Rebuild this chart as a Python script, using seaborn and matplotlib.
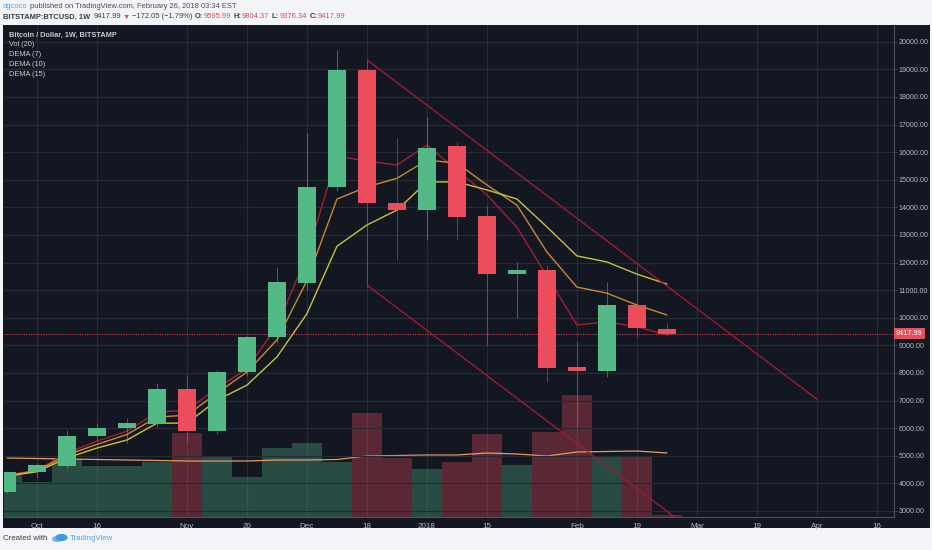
import matplotlib
matplotlib.use("Agg")
import matplotlib.pyplot as plt
from matplotlib.patches import Rectangle, Circle
import pandas as pd
import seaborn as sns

# weekly BTCUSD candles (Bitstamp)
weeks = pd.date_range("2017-09-25", "2018-02-26", freq="7D")

opens = [3690, 4410, 4630, 5710, 5990, 6140, 7410, 5890, 8040, 9300, 11260, 14740,
         18970, 14150, 13900, 16220, 13680, 11580, 11730, 8220, 8070, 10460, 9595.99]
highs = [4430, 4720, 5930, 6180, 6360, 7640, 7930, 8100, 9350, 11840, 16690, 19700,
         19340, 16510, 17270, 16350, 14050, 12020, 11900, 9120, 11290, 11830, 9804.37]
lows = [3650, 4200, 4550, 5550, 5460, 6050, 5500, 5800, 7900, 9090, 11000, 14600,
        11110, 12090, 12820, 12820, 9000, 9990, 7670, 6000, 7850, 9300, 9376.34]
closes = [4410, 4660, 5710, 6000, 6170, 7410, 5890, 8040, 9300, 11290, 14740, 18970,
          14150, 13900, 16150, 13650, 11580, 11730, 8180, 8070, 10460, 9630, 9417.99]

# volume (relative units) and its 20-period average
volume = [42, 35, 58, 51, 51, 55, 84, 61, 40, 69, 74, 55, 104, 59, 48, 55, 83, 52, 85, 122, 61, 61, 2]
vol_ma = [59, 58.5, 58, 57.5, 57, 56.5, 56, 56, 56, 57, 57, 57.5, 61, 61.5, 62, 62, 64, 63, 61, 65,
          65.5, 66, 64]

dema7 = [4300, 4480, 5100, 5530, 5890, 6580, 6650, 7450, 8150, 9700, 12250, 15850, 15680, 15530,
         16250, 15350, 14450, 13280, 11510, 9740, 9850, 9670, 9380]
dema10 = [4280, 4450, 5030, 5410, 5770, 6400, 6470, 7270, 8030, 9200, 11350, 14300, 14740, 15050,
          15710, 15600, 14810, 14080, 12380, 11110, 10890, 10460, 10100]
dema15 = [4260, 4420, 4920, 5280, 5570, 6180, 6180, 7010, 7560, 8580, 10150, 12590, 13360, 13900,
          14920, 14920, 14630, 14300, 13290, 12240, 12020, 11580, 11220]

# drawn trend channel
upper_dates = pd.to_datetime(["2017-12-18", "2018-04-02"])
upper_prices = [19340, 7050]
lower_dates = pd.to_datetime(["2017-12-18", "2018-03-05"])
lower_prices = [11180, 2170]

last_price = 9417.99

price_ticks = list(range(3000, 20001, 1000))
time_ticks = pd.to_datetime(["2017-10-02", "2017-10-16", "2017-11-06", "2017-11-20", "2017-12-04",
                             "2017-12-18", "2018-01-01", "2018-01-15", "2018-02-05", "2018-02-19",
                             "2018-03-05", "2018-03-19", "2018-04-02", "2018-04-16"])
time_labels = ["Oct", "16", "Nov", "20", "Dec", "18", "2018", "15", "Feb", "19", "Mar", "19", "Apr", "16"]

GREEN = "#53b987"
RED = "#eb4d5c"
BG = "#131722"
GRID = "#272b36"
TXT = "#b8bbc4"

sns.set_theme(style="dark")
plt.rcParams["font.family"] = ["Liberation Sans", "DejaVu Sans"]

W, H = 932, 550
fig = plt.figure(figsize=(W / 100, H / 100), dpi=100)
fig.patch.set_facecolor("#f2f4f7")


def fx(x):
    return x / W


def fy(y):
    return 1 - y / H


# dark chart frame
fig.patches.append(Rectangle((fx(3), fy(528)), fx(927), 503 / H,
                             transform=fig.transFigure, facecolor=BG, edgecolor="none", zorder=-5))

rect = [fx(4), fy(517), fx(890), 492 / H]
ax_v = fig.add_axes(rect)
ax_v.set_facecolor(BG)
ax = ax_v.twinx()

x_left = pd.Timestamp("2017-09-24 07:00")
x_right = pd.Timestamp("2018-04-20")
ax_v.set_xlim(x_left, x_right)
ax.set_ylim(2780, 20605)
ax_v.set_ylim(0, 492)

# volume
vol_colors = [GREEN if c >= o else RED for o, c in zip(opens, closes)]
ax_v.bar(weeks, volume, width=7, color=vol_colors, alpha=0.33, linewidth=0)
sns.lineplot(x=weeks, y=vol_ma, ax=ax_v, color="#e89a5d", linewidth=0.9)
ax_v.set_yticks([])
ax_v.set_ylabel("")
ax_v.set_xlabel("")
ax_v.grid(axis="x", color=GRID, linewidth=0.9)
ax_v.grid(axis="y", visible=False)
ax_v.set_xticks(time_ticks)
ax_v.set_xticklabels(time_labels)
ax_v.tick_params(axis="x", colors="#4c525e", labelcolor=TXT, labelsize=5.8, length=3, width=0.6, pad=1)
for s in ["top", "left", "right"]:
    ax_v.spines[s].set_visible(False)
ax_v.spines["bottom"].set_color("#4c525e")
ax_v.spines["bottom"].set_linewidth(0.8)

# DEMA lines
sns.lineplot(x=weeks, y=dema7, ax=ax, color="#a51f36", linewidth=1.0)
sns.lineplot(x=weeks, y=dema10, ax=ax, color="#c98a2e", linewidth=1.0)
sns.lineplot(x=weeks, y=dema15, ax=ax, color="#c8c23c", linewidth=1.0)

# candles
candle_colors = [GREEN if c >= o else RED for o, c in zip(opens, closes)]
ax.vlines(weeks, lows, highs, colors=candle_colors, linewidth=0.7, alpha=0.55, zorder=3)
bottoms = [min(o, c) for o, c in zip(opens, closes)]
heights = [max(abs(c - o), 120) for o, c in zip(opens, closes)]
ax.bar(weeks, heights, bottom=bottoms, width=4.3, color=candle_colors, linewidth=0, zorder=4)

# trend channel
ax.plot(upper_dates, upper_prices, color="#9e1b32", linewidth=1.0, zorder=5)
ax.plot(lower_dates, lower_prices, color="#9e1b32", linewidth=1.0, zorder=5)

# last price line and label
ax.axhline(last_price, color=RED, linestyle=(0, (1, 1.5)), linewidth=0.7, zorder=2)
ax.text(1.002, last_price, f"{last_price:.2f}", transform=ax.get_yaxis_transform(),
        ha="left", va="center", fontsize=5.2, color="white",
        bbox=dict(boxstyle="square,pad=0.3", facecolor=RED, edgecolor="none"), zorder=6)

ax.set_yticks(price_ticks)
ax.set_yticklabels([f"{v:.2f}" for v in price_ticks])
ax.set_ylabel("")
ax.set_xlabel("")
ax.tick_params(axis="y", colors="#4c525e", labelcolor=TXT, labelsize=5.1, length=2.5, width=0.6, pad=1)
ax.grid(axis="y", color=GRID, linewidth=0.9)
ax.grid(axis="x", visible=False)
ax.set_axisbelow(True)
for s in ["top", "left", "bottom"]:
    ax.spines[s].set_visible(False)
ax.spines["right"].set_color("#4c525e")
ax.spines["right"].set_linewidth(0.8)

# legend-like labels inside the pane
pane_labels = ["Bitcoin / Dollar, 1W, BITSTAMP", "Vol (20)", "DEMA (7)", "DEMA (10)", "DEMA (15)"]
for i, lab in enumerate(pane_labels):
    fig.text(fx(9), fy(35 + 10 * i), lab, color="#c8cbd3", fontsize=5.3,
             fontweight="bold" if i == 0 else "normal", va="center", ha="left")

renderer = fig.canvas.get_renderer()


def chain(x, y, parts, size):
    for txt, color, weight, gap in parts:
        t = fig.text(fx(x), fy(y), txt, color=color, fontsize=size, fontweight=weight,
                     va="center", ha="left")
        x += t.get_window_extent(renderer=renderer).width + gap


DARK = "#3a3d45"
VAL = "#e0475a"
chain(3, 7, [("dgcoco", "#4ea7e6", "normal", 2),
             ("published on TradingView.com, February 26, 2018 03:34 EST", "#4a4d55", "normal", 0)], 5.4)
chain(3, 17, [("BITSTAMP:BTCUSD, 1W", DARK, "bold", 3),
              ("9417.99", DARK, "normal", 2),
              ("\u25bc", "#e0475a", "normal", 1.5),
              ("\u2212172.05 (\u22121.79%)", DARK, "normal", 3),
              ("O:", DARK, "bold", 0.5), ("9595.99", VAL, "normal", 2.5),
              ("H:", DARK, "bold", 0.5), ("9804.37", VAL, "normal", 2.5),
              ("L:", DARK, "bold", 0.5), ("9376.34", VAL, "normal", 2.5),
              ("C:", DARK, "bold", 0.5), ("9417.99", VAL, "normal", 0)], 5.4)

# footer
fig.text(fx(3), fy(539), "Created with", color="#3a3d45", fontsize=5.7, va="center", ha="left")
fig.patches.append(Circle((fx(57), fy(539)), 3.0 / H, transform=fig.transFigure,
                          facecolor="#6bbcee", edgecolor="none"))
fig.patches.append(Circle((fx(61.5), fy(537.5)), 3.6 / H, transform=fig.transFigure,
                          facecolor="#3d9be0", edgecolor="none"))
fig.text(fx(70), fy(539), "TradingView", color="#4ea7e6", fontsize=5.7, va="center", ha="left")

fig.savefig("out.png", dpi=100, facecolor=fig.get_facecolor())
plt.close(fig)
